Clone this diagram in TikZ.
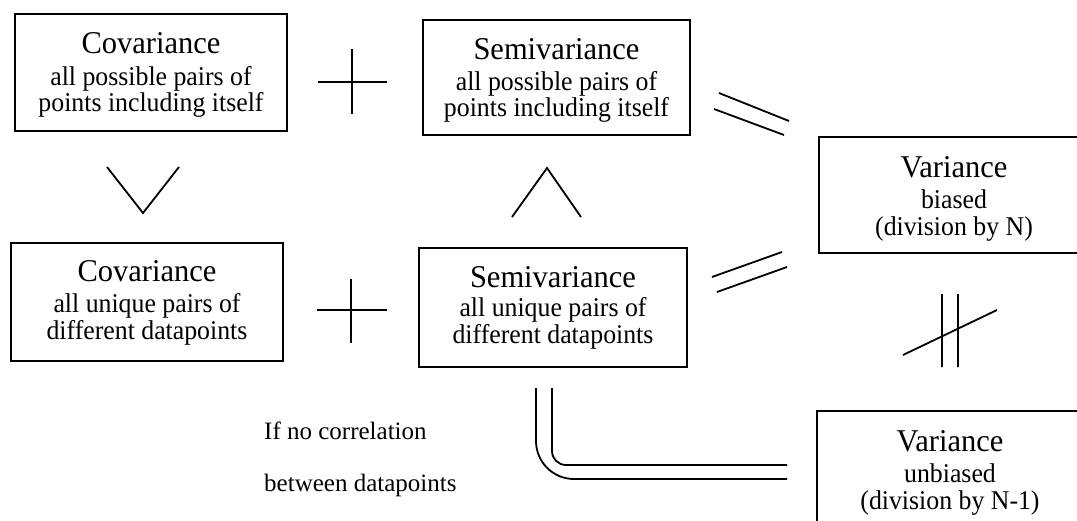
\documentclass[tikz,border=0pt]{standalone}
\usepackage{fontspec}
\setmainfont{Liberation Serif}
\newcommand{\vst}[2]{\scalebox{1}[#1]{#2}}
\begin{document}
\begin{tikzpicture}[x=1pt,y=-1pt,
  box/.style={draw, line width=1.8pt, anchor=north west, inner sep=0pt, outer sep=0pt},
  ttl/.style={anchor=base, inner sep=0pt, font=\fontsize{30.5}{30.5}\selectfont},
  sub/.style={anchor=base, inner sep=0pt, font=\fontsize{25.8}{25.8}\selectfont},
  note/.style={anchor=base west, inner sep=0pt, font=\fontsize{25}{25}\selectfont},
  sym/.style={line width=1.8pt}]
\useasboundingbox (0,0) rectangle (1077,520);
\clip (0,0) rectangle (1077,520);
% boxes
\node[box, minimum width=272pt, minimum height=117pt] (c1) at (15,14) {};
\node[box, minimum width=267pt, minimum height=115pt] (s1) at (423,20) {};
\node[box, minimum width=271pt, minimum height=116pt] (vb) at (819,137) {};
\node[box, minimum width=272pt, minimum height=118pt] (c2) at (11,243) {};
\node[box, minimum width=268pt, minimum height=119pt] (s2) at (419,248) {};
\node[box, minimum width=271pt, minimum height=130pt] (vu) at (817,411) {};
% texts
\node[ttl] (c1t) at (151,53) {\vst{1.04}{Covariance}};
\node[sub] (c1a) at (151,85) {\vst{1.05}{all possible pairs of}};
\node[sub] (c1b) at (151,111.5) {\vst{1.05}{points including itself}};
\node[ttl] (s1t) at (556.5,59) {\vst{1.04}{Semivariance}};
\node[sub] (s1a) at (556.5,90) {\vst{1.05}{all possible pairs of}};
\node[sub] (s1b) at (556.5,116.5) {\vst{1.05}{points including itself}};
\node[ttl] (vbt) at (954,177) {\vst{1.04}{Variance}};
\node[sub] (vba) at (954,208.5) {\vst{1.05}{biased}};
\node[sub] (vbb) at (954,235) {\vst{1.05}{(division by N)}};
\node[ttl] (c2t) at (147,281) {\vst{1.04}{Covariance}};
\node[sub] (c2a) at (147,312.5) {\vst{1.05}{all unique pairs of}};
\node[sub] (c2b) at (147,339) {\vst{1.05}{different datapoints}};
\node[ttl] (s2t) at (553,287) {\vst{1.04}{Semivariance}};
\node[sub] (s2a) at (553,316.5) {\vst{1.05}{all unique pairs of}};
\node[sub] (s2b) at (553,343) {\vst{1.05}{different datapoints}};
\node[ttl] (vut) at (950,451) {\vst{1.04}{Variance}};
\node[sub] (vua) at (950,482.5) {\vst{1.05}{unbiased}};
\node[sub] (vub) at (950,509) {\vst{1.05}{(division by N-1)}};
\node[note] (n1) at (264,439) {If no correlation};
\node[note] (n2) at (264,491) {between datapoints};
% plus signs
\draw[sym] (318,82) -- (387,82) (352,49) -- (352,114);
\draw[sym] (317,310) -- (387,310) (351,279) -- (351,343);
% V and wedge
\draw[sym] (107,167) -- (143,213) -- (179,167);
\draw[sym] (512,217) -- (547,168) -- (581,217);
% equals signs
\draw[sym] (719,93) -- (789,121) (714,109) -- (784,135);
\draw[sym] (712,277) -- (782,252) (717,292) -- (787,267);
% not equal
\draw[sym] (942,294) -- (942,367) (958,294) -- (958,367) (903,355) -- (997,310);
% double bent line
\draw[sym, rounded corners=38pt] (536,388) -- (536,479) -- (787,479);
\draw[sym, rounded corners=14pt] (552,388) -- (552,465) -- (787,465);
\end{tikzpicture}
\end{document}
